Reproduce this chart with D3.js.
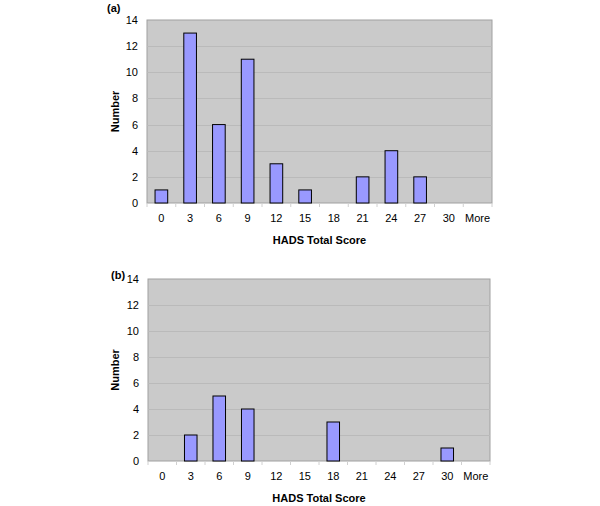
<!DOCTYPE html>
<html>
<head>
<meta charset="utf-8">
<script src="https://cdn.jsdelivr.net/npm/d3@7"></script>
<style>
  body { margin: 0; background: #fff; }
  text { font-family: "Liberation Sans", Arial, sans-serif; }
</style>
</head>
<body>
<svg width="600" height="506"></svg>
<script>
const categories = ["0", "3", "6", "9", "12", "15", "18", "21", "24", "27", "30", "More"];
const countsA = [1, 13, 6, 11, 3, 1, 0, 2, 4, 2, 0, 0];
const countsB = [0, 2, 5, 4, 0, 0, 3, 0, 0, 0, 1, 0];
const yTicks = [0, 2, 4, 6, 8, 10, 12, 14];

const svg = d3.select("svg");

function drawPanel(label, values, box) {
  const g = svg.append("g");

  const x = d3.scaleBand()
    .domain(categories)
    .range([box.left, box.right]);

  const y = d3.scaleLinear()
    .domain([0, 14])
    .range([box.bottom, box.top]);

  // plot area
  g.append("rect")
    .attr("x", box.left)
    .attr("y", box.top)
    .attr("width", box.right - box.left)
    .attr("height", box.bottom - box.top)
    .attr("fill", "#cacaca")
    .attr("stroke", "#a0a0a0")
    .attr("stroke-width", 1);

  // gridlines
  g.selectAll(".grid")
    .data(yTicks.slice(1, -1))
    .enter()
    .append("line")
    .attr("x1", box.left)
    .attr("x2", box.right)
    .attr("y1", d => Math.round(y(d)) + 0.5)
    .attr("y2", d => Math.round(y(d)) + 0.5)
    .attr("stroke", "#bababa");

  // bars
  const bw = x.bandwidth() * 0.44;
  g.selectAll(".bar")
    .data(values.map((v, i) => ({ cat: categories[i], v })).filter(d => d.v > 0))
    .enter()
    .append("rect")
    .attr("x", d => x(d.cat) + (x.bandwidth() - bw) / 2)
    .attr("y", d => y(d.v))
    .attr("width", bw)
    .attr("height", d => y(0) - y(d.v))
    .attr("fill", "#9999ff")
    .attr("stroke", "#000")
    .attr("stroke-width", 1);

  // y axis
  const yAxis = d3.axisLeft(y).tickValues(yTicks).tickSize(0).tickPadding(9);
  const ya = g.append("g")
    .attr("transform", `translate(${box.left},0)`)
    .call(yAxis);
  ya.select(".domain").remove();
  ya.selectAll("text").attr("font-size", 11).attr("fill", "#000")
    .attr("font-family", "Liberation Sans, Arial, sans-serif");

  // x axis
  const xAxis = d3.axisBottom(x).tickSize(0).tickPadding(11);
  const xa = g.append("g")
    .attr("transform", `translate(0,${box.bottom})`)
    .call(xAxis);
  xa.select(".domain").remove();
  xa.selectAll("text").attr("font-size", 11).attr("fill", "#000")
    .attr("font-family", "Liberation Sans, Arial, sans-serif");

  // small tick marks between categories
  g.selectAll(".xtick")
    .data(categories.concat(["end"]))
    .enter()
    .append("line")
    .attr("x1", (d, i) => box.left + i * x.bandwidth())
    .attr("x2", (d, i) => box.left + i * x.bandwidth())
    .attr("y1", box.bottom)
    .attr("y2", box.bottom + 4)
    .attr("stroke", "#d0d0d0");

  // axis titles
  g.append("text")
    .attr("x", (box.left + box.right) / 2)
    .attr("y", box.bottom + 41)
    .attr("text-anchor", "middle")
    .attr("font-size", 11)
    .attr("font-weight", "bold")
    .text("HADS Total Score");

  g.append("text")
    .attr("transform", `translate(119,${(box.top + box.bottom) / 2}) rotate(-90)`)
    .attr("text-anchor", "middle")
    .attr("font-size", 11)
    .attr("font-weight", "bold")
    .text("Number");

  g.append("text")
    .attr("x", box.labelX)
    .attr("y", box.labelY)
    .attr("font-size", 11)
    .attr("font-weight", "bold")
    .text(label);
}

drawPanel("(a)", countsA, { left: 147, right: 492, top: 20, bottom: 203, labelX: 107, labelY: 12 });
drawPanel("(b)", countsB, { left: 148, right: 490, top: 279, bottom: 461, labelX: 111, labelY: 279 });
</script>
</body>
</html>
